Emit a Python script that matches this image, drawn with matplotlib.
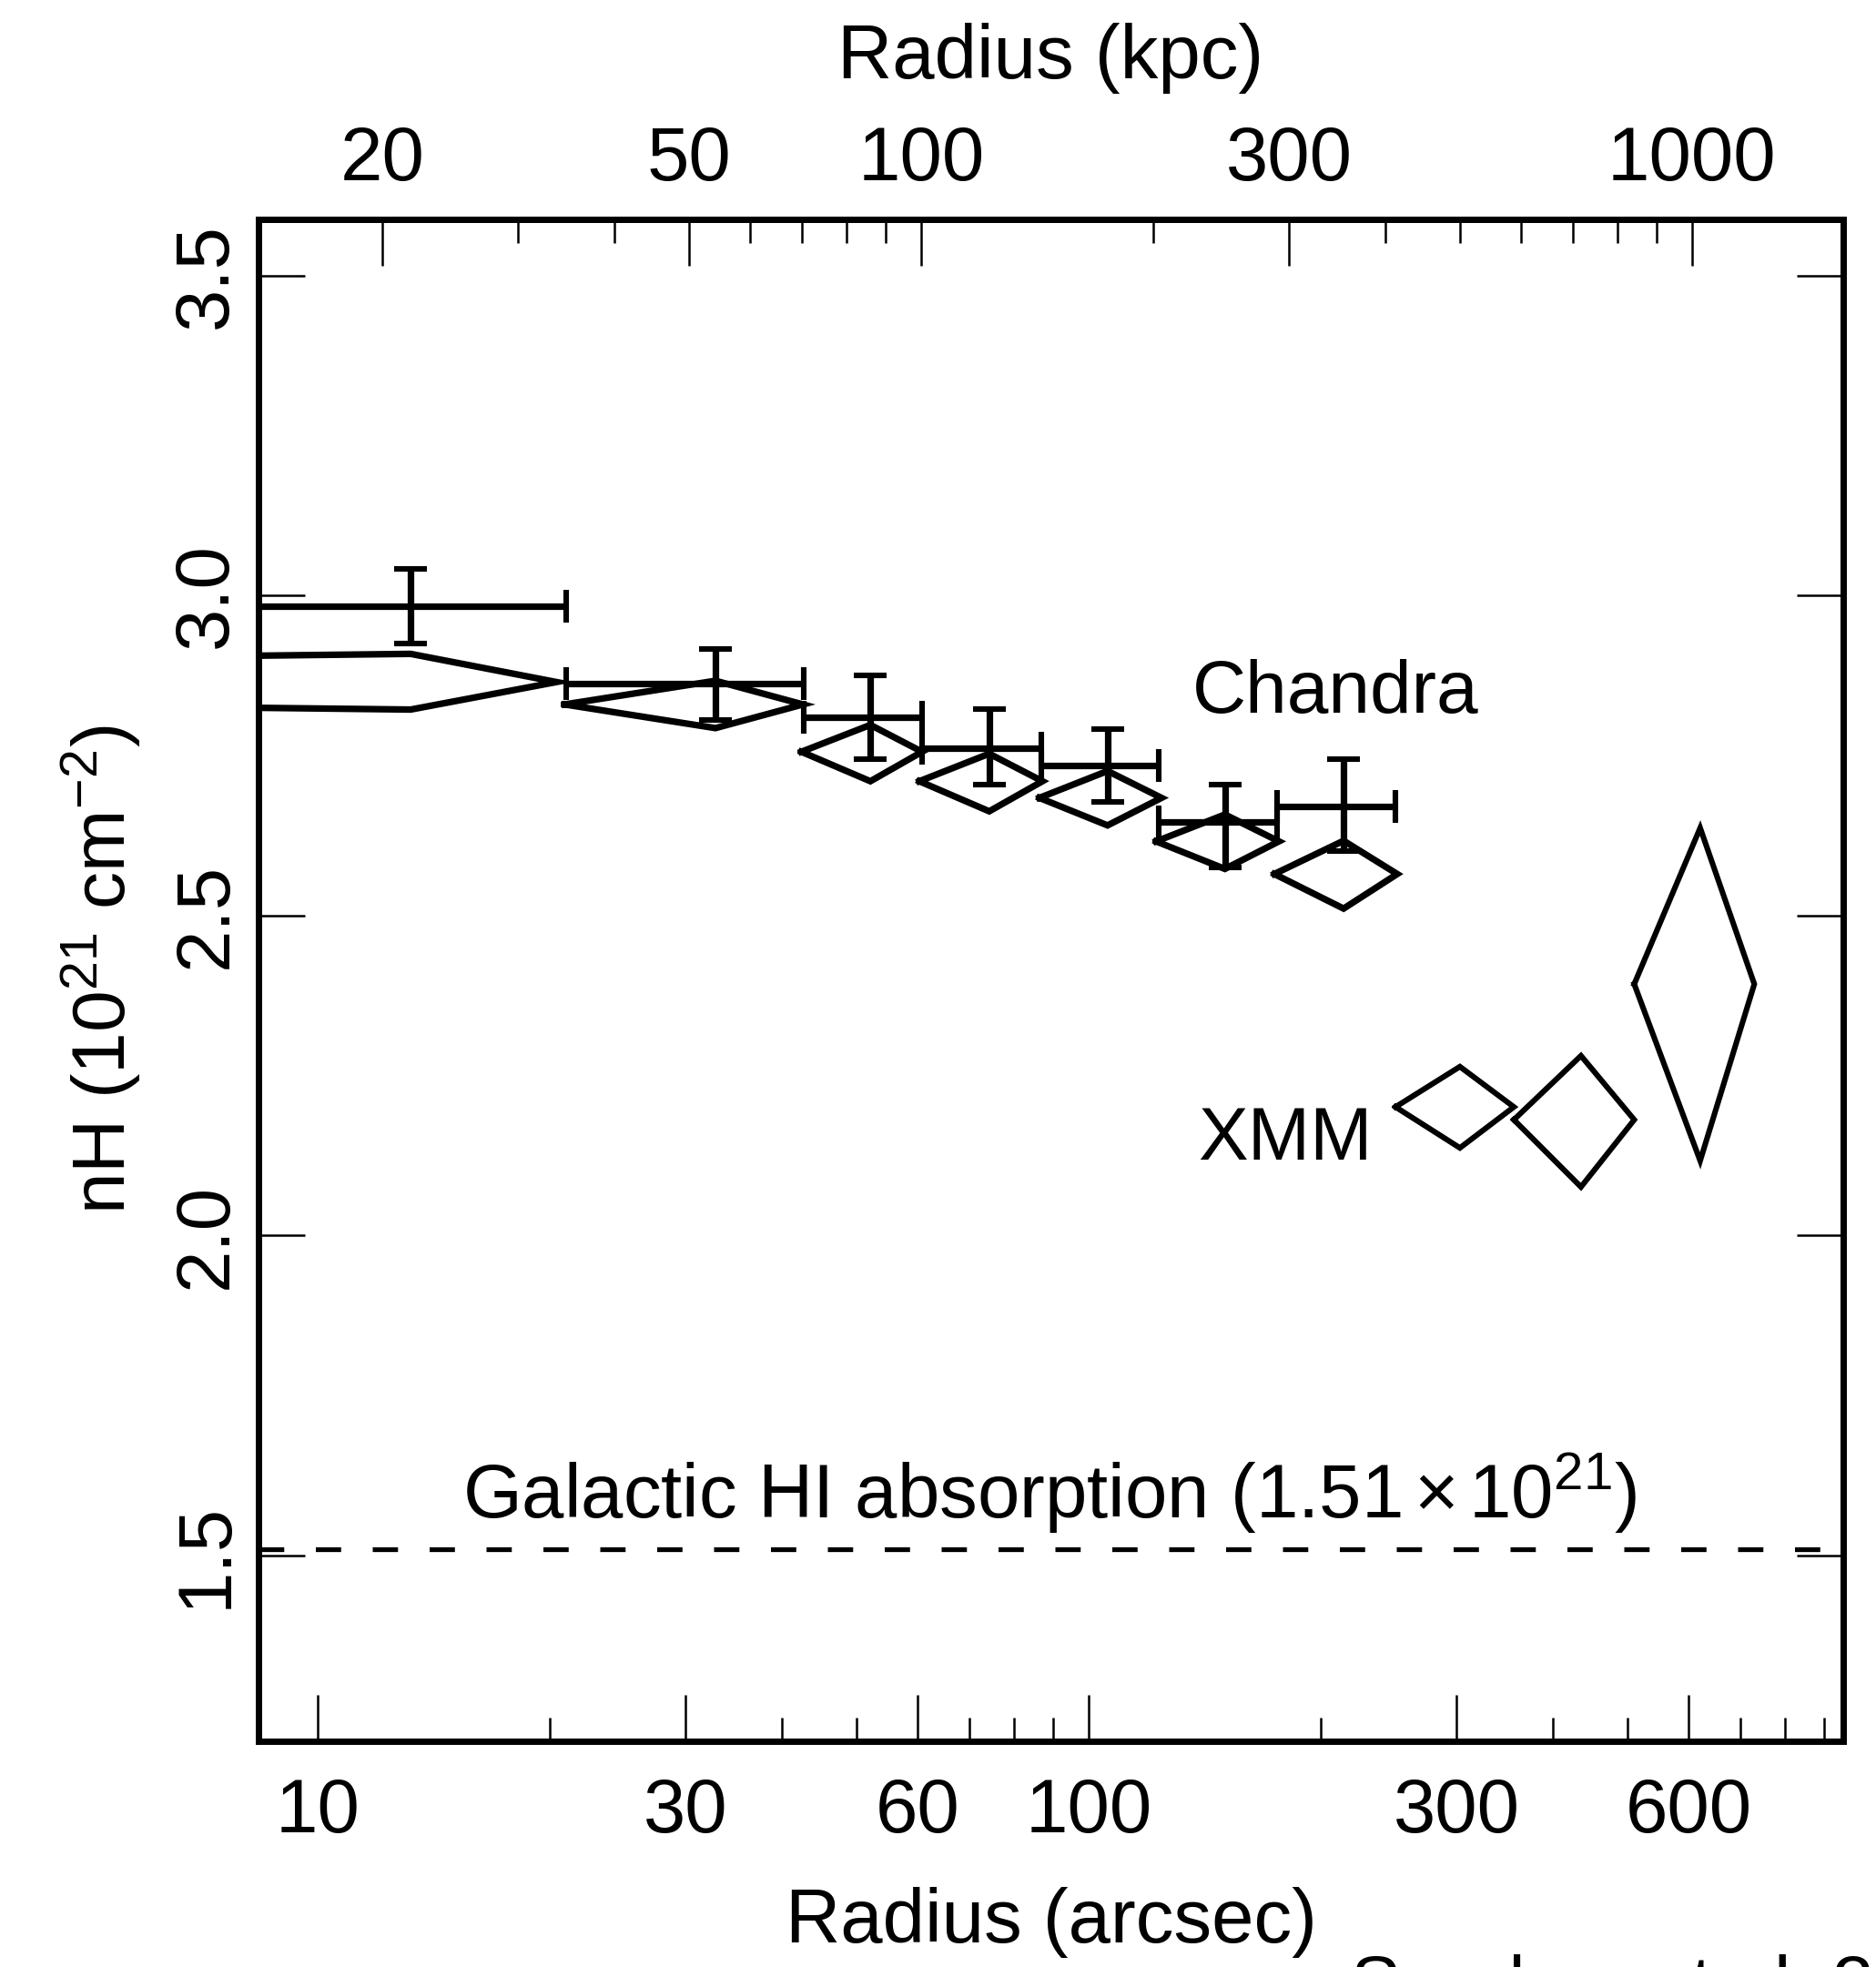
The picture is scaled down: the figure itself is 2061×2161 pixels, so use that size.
import numpy as np
import matplotlib
matplotlib.use('Agg')
import matplotlib.pyplot as plt
from matplotlib.ticker import NullFormatter, NullLocator

plt.rcParams['font.family'] = ['Liberation Sans', 'DejaVu Sans']
plt.rcParams['mathtext.fontset'] = 'custom'
plt.rcParams['mathtext.rm'] = 'Liberation Sans'
plt.rcParams['mathtext.it'] = 'Liberation Sans:italic'
plt.rcParams['mathtext.bf'] = 'Liberation Sans:bold'

# ---------------- data ----------------
# Chandra crosses (radius in arcsec, nH in 1e21 cm^-2)
ch_r = [13.2, 32.8, 52.1, 74.3, 105.8, 150.2, 214.1]
ch_r_lo = [0.01, 21.0, 42.7, 60.8, 86.7, 123.4, 175.4]
ch_r_hi = [21.0, 42.7, 60.8, 86.7, 123.4, 175.4, 250.2]
ch_nh = [2.983, 2.863, 2.810, 2.762, 2.735, 2.646, 2.671]
ch_nh_lo = [2.925, 2.805, 2.745, 2.704, 2.677, 2.575, 2.601]
ch_nh_hi = [3.042, 2.916, 2.875, 2.823, 2.792, 2.705, 2.744]

# Chandra diamonds
dm_r = [13.2, 32.8, 52.1, 74.3, 105.8, 150.2, 214.1]
dm_r_lo = [0.01, 20.9, 42.4, 60.3, 86.3, 122.3, 174.1]
dm_r_hi = [20.4, 42.6, 60.8, 87.1, 124.3, 176.5, 251.3]
dm_nh = [2.865, 2.830, 2.756, 2.710, 2.684, 2.616, 2.565]
dm_nh_lo = [2.822, 2.793, 2.710, 2.663, 2.641, 2.573, 2.511]
dm_nh_hi = [2.909, 2.867, 2.798, 2.753, 2.726, 2.658, 2.617]

# XMM diamonds
xmm_r = [303, 435, 621]
xmm_r_lo = [250, 356, 510]
xmm_r_hi = [356, 510, 730]
xmm_nh = [2.201, 2.181, 2.393]
xmm_nh_lo = [2.137, 2.076, 2.117]
xmm_nh_hi = [2.264, 2.281, 2.637]

galactic_nh = 1.51
kpc_per_arcsec = 1.65

x_ticks = [10, 30, 60, 100, 300, 600]
x_minor = [20, 40, 50, 70, 80, 90, 200, 400, 500, 700, 800, 900]
kpc_ticks = [20, 50, 100, 300, 1000]
kpc_minor = [30, 40, 60, 70, 80, 90, 200, 400, 500, 600, 700, 800, 900]
y_ticks = [1.5, 2.0, 2.5, 3.0, 3.5]
y_labels = ['1.5', '2.0', '2.5', '3.0', '3.5']

# ---------------- figure ----------------
W, H = 2061, 2161
fig = plt.figure(figsize=(W / 100, H / 100), dpi=100)
ax = fig.add_axes([284 / W, 1 - 1913 / H, (2025 - 284) / W, (1913 - 241) / H])

xlim = (8.38, 952.0)
ylim = (1.2098, 3.588)

col = 'black'
lw_ch = 5.2
lw_xmm = 4.4

# Chandra crosses
r = np.array(ch_r)
n = np.array(ch_nh)
ax.errorbar(r, n,
            xerr=[r - np.array(ch_r_lo), np.array(ch_r_hi) - r],
            yerr=[n - np.array(ch_nh_lo), np.array(ch_nh_hi) - n],
            fmt='none', ecolor=col, elinewidth=lw_ch, capsize=13, capthick=4.4)


def diamonds(rc, rl, rh, nc, nl, nh, lw):
    for a, b, c, d, e, f in zip(rc, rl, rh, nc, nl, nh):
        xs = [b, a, c, a, b]
        ys = [d, f, d, e, d]
        ax.plot(xs, ys, color=col, lw=lw, solid_joinstyle='miter')


diamonds(dm_r, dm_r_lo, dm_r_hi, dm_nh, dm_nh_lo, dm_nh_hi, lw_ch)
diamonds(xmm_r, xmm_r_lo, xmm_r_hi, xmm_nh, xmm_nh_lo, xmm_nh_hi, lw_xmm)

lw_d = 3.8
ax.axhline(galactic_nh, color=col, lw=lw_d, dashes=(20 / lw_d, 25 / lw_d))

ax.text(89, 1.558, 'Galactic HI absorption (1.51$\\,$\u00d7$\\,$10$^{21}$)',
        ha='center', va='baseline', fontsize=60)
ax.text(136.3, 2.817, 'Chandra', ha='left', va='baseline', fontsize=59)
ax.text(138.6, 2.119, 'XMM', ha='left', va='baseline', fontsize=59)

ax.set_xscale('log')
ax.set_xlim(*xlim)
ax.set_ylim(*ylim)

ax.set_xticks(x_ticks, labels=[str(v) for v in x_ticks])
ax.set_xticks(x_minor, minor=True)
ax.xaxis.set_minor_formatter(NullFormatter())
ax.set_yticks(y_ticks, labels=y_labels, rotation=90, va='center')
ax.yaxis.set_minor_locator(NullLocator())

ax.tick_params(axis='x', which='both', direction='in', bottom=True, top=False,
               labelsize=60, pad=28, width=1.8)
ax.tick_params(axis='x', which='major', length=37)
ax.tick_params(axis='x', which='minor', length=19)
ax.tick_params(axis='y', which='major', direction='in', left=True, right=True,
               length=37, width=1.8, labelsize=60, pad=13)

ax.set_xlabel('Radius (arcsec)', fontsize=60, va='baseline')
ax.xaxis.set_label_coords(0.5, -0.1322)
ax.set_ylabel('nH (10$^{21}$ cm$^{-2}$)', fontsize=59, va='baseline',
              rotation_mode='anchor')
ax.yaxis.set_label_coords(-0.0835, 0.507)

for s in ax.spines.values():
    s.set_linewidth(5.0)

# top axis in kpc
ax2 = ax.twiny()
ax2.set_xscale('log')
ax2.set_xlim(xlim[0] * kpc_per_arcsec, xlim[1] * kpc_per_arcsec)
ax2.set_xticks(kpc_ticks, labels=[str(v) for v in kpc_ticks])
ax2.set_xticks(kpc_minor, minor=True)
ax2.xaxis.set_minor_formatter(NullFormatter())
ax2.tick_params(axis='x', which='both', direction='in', top=True, bottom=False,
                labelsize=60, pad=19, width=1.8)
ax2.tick_params(axis='x', which='major', length=37)
ax2.tick_params(axis='x', which='minor', length=19)
ax2.set_xlabel('Radius (kpc)', fontsize=60, va='baseline')
ax2.xaxis.set_label_coords(0.5, 1.093)
for s in ax2.spines.values():
    s.set_linewidth(5.0)

fig.text(1484 / W, 1 - 2206 / H, 'Sanders et al. 2005', fontsize=59,
         ha='left', va='baseline')

fig.savefig('out.png', dpi=100)
